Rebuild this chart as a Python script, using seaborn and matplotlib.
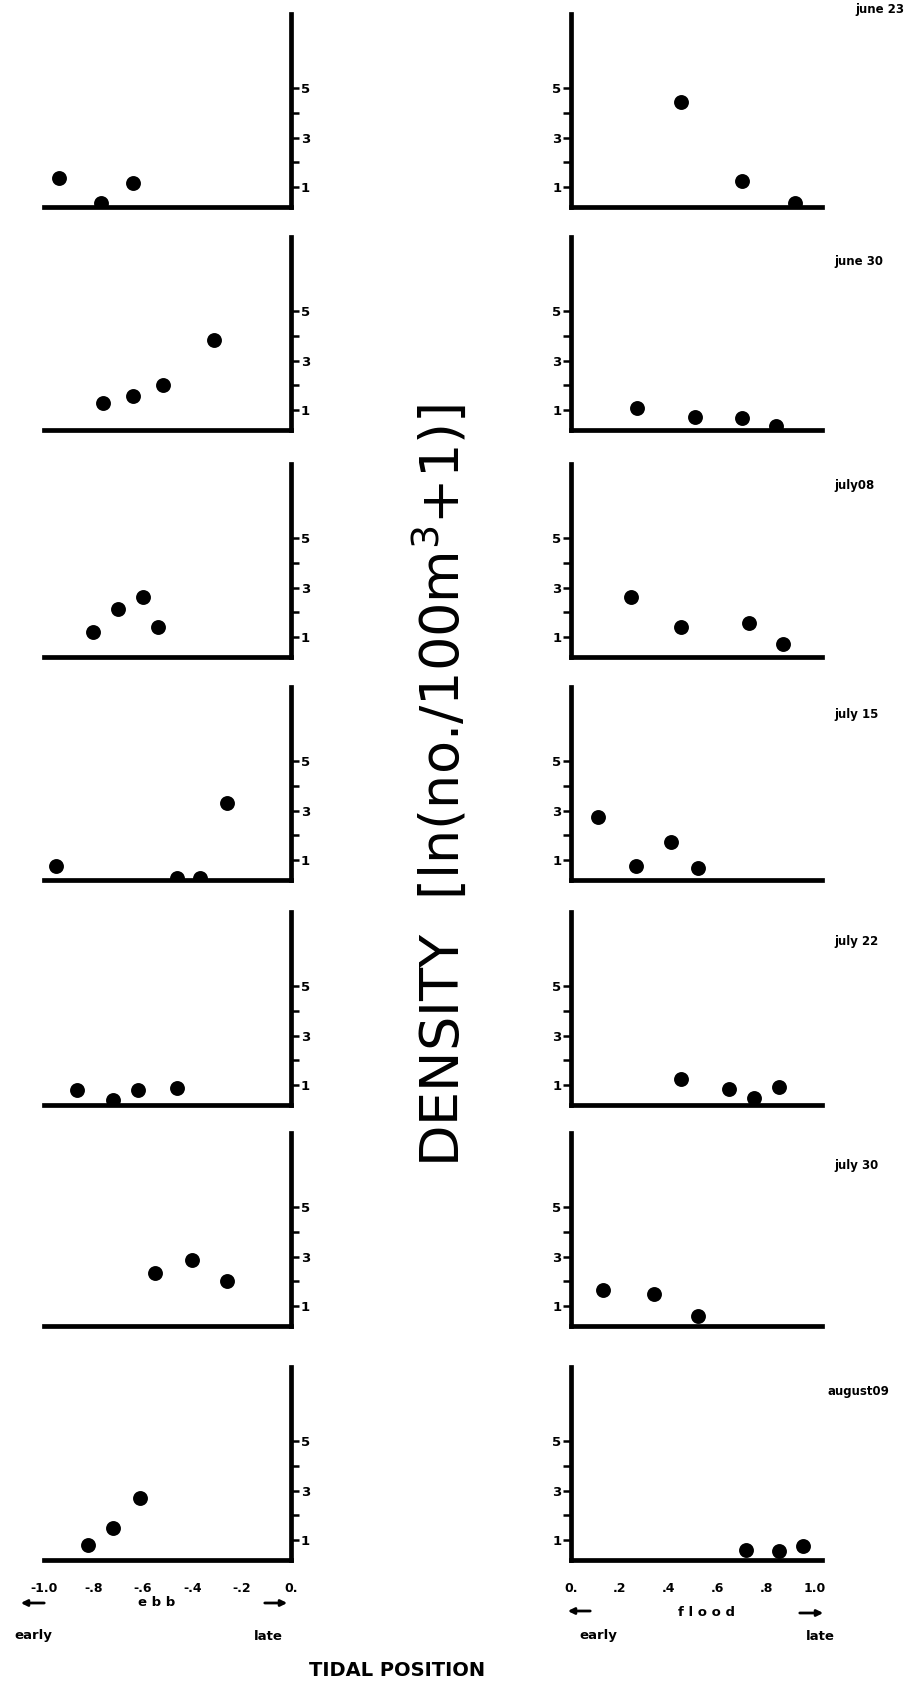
import numpy as np
import pandas as pd
import matplotlib
matplotlib.use("Agg")
import matplotlib.pyplot as plt
from matplotlib.patches import FancyArrowPatch
import seaborn as sns

# ---------------- data ----------------
dates = ["june 23", "june 30", "july08", "july 15", "july 22", "july 30", "august09"]

ebb_x = [[-0.94, -0.77, -0.64],
         [-0.76, -0.64, -0.52, -0.31],
         [-0.80, -0.70, -0.60, -0.54],
         [-0.95, -0.46, -0.37, -0.26],
         [-0.865, -0.72, -0.62, -0.46],
         [-0.55, -0.40, -0.26],
         [-0.82, -0.72, -0.61]]
ebb_y = [[1.36, 0.38, 1.16],
         [1.28, 1.57, 2.00, 3.83],
         [1.20, 2.13, 2.64, 1.40],
         [0.75, 0.30, 0.30, 3.30],
         [0.81, 0.42, 0.81, 0.89],
         [2.35, 2.88, 2.03],
         [0.79, 1.50, 2.71]]

flood_x = [[0.45, 0.70, 0.92],
           [0.27, 0.51, 0.70, 0.84],
           [0.245, 0.45, 0.73, 0.87],
           [0.11, 0.265, 0.41, 0.52],
           [0.45, 0.65, 0.75, 0.855],
           [0.13, 0.34, 0.52],
           [0.72, 0.855, 0.95]]
flood_y = [[4.43, 1.25, 0.38],
           [1.10, 0.71, 0.68, 0.38],
           [2.62, 1.43, 1.57, 0.73],
           [2.75, 0.75, 1.75, 0.68],
           [1.26, 0.83, 0.48, 0.94],
           [1.64, 1.50, 0.62],
           [0.62, 0.55, 0.77]]

ytick_vals = [1, 2, 3, 4, 5]
ytick_labels = ["1", "", "3", "", "5"]
ebb_ticks = [-1.0, -0.9, -0.8, -0.7, -0.6, -0.5, -0.4, -0.3, -0.2, -0.1, 0.0]
ebb_labels = ["-1.0", "", "-.8", "", "-.6", "", "-.4", "", "-.2", "", "0."]
flood_ticks = [0.0, 0.1, 0.2, 0.3, 0.4, 0.5, 0.6, 0.7, 0.8, 0.9, 1.0]
flood_labels = ["0.", "", ".2", "", ".4", "", ".6", "", ".8", "", "1.0"]

rows = []
for i, d in enumerate(dates):
    for x, y in zip(ebb_x[i], ebb_y[i]):
        rows.append(dict(date=d, phase="ebb", pos=x, dens=y))
    for x, y in zip(flood_x[i], flood_y[i]):
        rows.append(dict(date=d, phase="flood", pos=x, dens=y))
df = pd.DataFrame(rows)

# ---------------- layout ----------------
sns.set_theme(style="white")
plt.rcParams["font.family"] = ["DejaVu Sans"]
plt.rcParams["text.color"] = "black"
plt.rcParams["xtick.color"] = "black"
plt.rcParams["ytick.color"] = "black"

W, H = 923, 1687
fig = plt.figure(figsize=(W / 100, H / 100), dpi=100)
fig.patch.set_facecolor("white")

row_bottom = [207, 430, 657, 880, 1105, 1326, 1560]
axh = 193
lx0, lx1 = 44, 291
rx0, rx1 = 571, 822

def rect(x0, x1, yb):
    return [x0 / W, 1 - yb / H, (x1 - x0) / W, axh / H]

SPW = 3.4
for i, d in enumerate(dates):
    last = i == len(dates) - 1
    for phase in ["ebb", "flood"]:
        if phase == "ebb":
            ax = fig.add_axes(rect(lx0, lx1, row_bottom[i]))
        else:
            ax = fig.add_axes(rect(rx0, rx1, row_bottom[i]))
        sub = df[(df.date == d) & (df.phase == phase)]
        sns.scatterplot(data=sub, x="pos", y="dens", ax=ax, s=115,
                        color="black", edgecolor="black", linewidth=0, legend=False)
        ax.set_ylim(0.2, 8.0)
        ax.set_xlabel("")
        ax.set_ylabel("")
        ax.set_facecolor("none")
        for s in ax.spines.values():
            s.set_visible(False)
        ax.spines["bottom"].set_visible(True)
        ax.spines["bottom"].set_linewidth(SPW)
        ax.spines["bottom"].set_color("black")
        if phase == "ebb":
            ax.set_xlim(-1.0, 0.0)
            ax.spines["right"].set_visible(True)
            ax.spines["right"].set_linewidth(SPW)
            ax.spines["right"].set_color("black")
            ax.yaxis.tick_right()
            ax.set_xticks(ebb_ticks)
            ax.set_xticklabels(ebb_labels if last else [""] * len(ebb_ticks))
        else:
            ax.set_xlim(0.0, 1.03)
            ax.spines["left"].set_visible(True)
            ax.spines["left"].set_linewidth(SPW)
            ax.spines["left"].set_color("black")
            ax.yaxis.tick_left()
            ax.set_xticks(flood_ticks)
            ax.set_xticklabels(flood_labels if last else [""] * len(flood_ticks))
        ax.set_yticks(ytick_vals)
        ax.set_yticklabels(ytick_labels)
        ax.tick_params(axis="y", direction="out", length=6, width=1.8, pad=1,
                       labelsize=9.5, colors="black")
        ax.tick_params(axis="x", direction="out", length=6, width=1.6, pad=10,
                       labelsize=9, colors="black")
        for t in ax.get_xticklabels() + ax.get_yticklabels():
            t.set_fontweight("bold")

# ---------------- text ----------------
def ftext(x, y, s, **kw):
    fig.text(x / W, 1 - y / H, s, **kw)

title_pos = [(855, 9), (834, 261), (834, 486), (834, 714), (834, 941), (834, 1165), (828, 1391)]
for d, (x, y) in zip(dates, title_pos):
    ftext(x, y, d, ha="left", va="center", fontsize=8.5, fontweight="bold")

ftext(441, 785, "DENSITY  [ln(no./100m$^{3}$+1)]", rotation=90, ha="center", va="center",
      fontsize=39, color="black")

ftext(157, 1603, "e b b", ha="center", va="center", fontsize=9.5, fontweight="bold")
ftext(707, 1612, "f l o o d", ha="center", va="center", fontsize=9.5, fontweight="bold")
ftext(33, 1636, "early", ha="center", va="center", fontsize=9.5, fontweight="bold")
ftext(268, 1636, "late", ha="center", va="center", fontsize=9.5, fontweight="bold")
ftext(598, 1636, "early", ha="center", va="center", fontsize=9.5, fontweight="bold")
ftext(820, 1636, "late", ha="center", va="center", fontsize=9.5, fontweight="bold")
ftext(397, 1670, "TIDAL POSITION", ha="center", va="center", fontsize=14, fontweight="bold")

def farrow(x0, x1, y):
    fig.add_artist(FancyArrowPatch((x0 / W, 1 - y / H), (x1 / W, 1 - y / H),
                                   transform=fig.transFigure, arrowstyle="-|>",
                                   mutation_scale=9, lw=2, color="black"))

farrow(47, 18, 1603)
farrow(262, 290, 1603)
farrow(593, 565, 1611)
farrow(797, 826, 1613)

fig.savefig("out.png", dpi=100, facecolor="white")
